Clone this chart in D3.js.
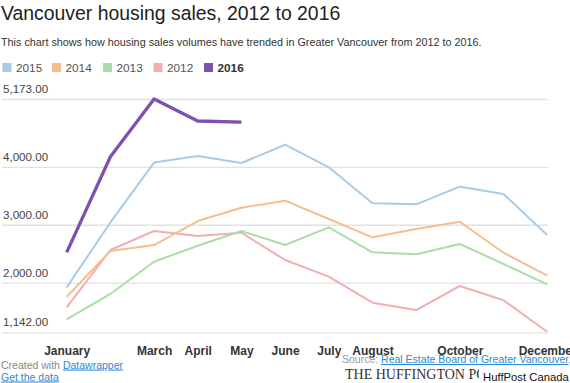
<!DOCTYPE html>
<html><head><meta charset="utf-8">
<script src="https://cdn.jsdelivr.net/npm/d3@7"></script>
<style>
html,body{margin:0;padding:0;background:#fff;overflow:hidden;}
svg{display:block;font-family:"Liberation Sans",Arial,Helvetica,sans-serif;}
</style></head>
<body>
<svg id="c" width="570" height="383"></svg>
<script>
const months = ["January","February","March","April","May","June","July","August","September","October","November","December"];
const shownMonths = ["January","March","April","May","June","July","August","October","December"];
const yTicks = [1142, 2000, 3000, 4000, 5173];
const seriesNames = ["2015","2014","2013","2012","2016"];
const seriesColors = ["#a9cce6","#f5be8f","#aedca8","#f3aeb0","#7e50b0"];
const s2015 = [1919, 3040, 4075, 4188, 4067, 4383, 3993, 3371, 3353, 3658, 3531, 2823];
const s2014 = [1757, 2547, 2650, 3065, 3295, 3416, 3100, 2783, 2927, 3053, 2517, 2120];
const s2013 = [1367, 1804, 2362, 2638, 2892, 2650, 2956, 2524, 2490, 2668, 2322, 1971];
const s2012 = [1574, 2564, 2892, 2806, 2863, 2391, 2103, 1653, 1527, 1942, 1695, 1152];
const s2016 = [2524, 4176, 5173, 4793, 4775];
const seriesValues = [s2015, s2014, s2013, s2012, s2016];

const svg = d3.select("#c");
const x = d3.scalePoint().domain(months).range([66.7, 547.2]);
const y = d3.scaleLinear().domain([1142, 5173]).range([332.3, 99]);

// title, subtitle
svg.append("text").attr("x", 1).attr("y", 20).attr("font-size", 19.4).attr("fill", "#222")
  .text("Vancouver housing sales, 2012 to 2016");
svg.append("text").attr("x", 1).attr("y", 46).attr("font-size", 10.8).attr("fill", "#333")
  .text("This chart shows how housing sales volumes have trended in Greater Vancouver from 2012 to 2016.");

// legend
const legX = [2.5, 52, 103, 153.5, 204];
const leg = svg.append("g");
seriesNames.forEach((n, i) => {
  leg.append("rect").attr("x", legX[i]).attr("y", 63).attr("width", 9).attr("height", 9)
    .attr("fill", seriesColors[i]);
  leg.append("text").attr("x", legX[i] + 13.5).attr("y", 71.5).attr("font-size", 11.8)
    .attr("fill", i === 4 ? "#333" : "#555").attr("font-weight", i === 4 ? "bold" : "normal").text(n);
});

// y grid + labels
const yAxis = d3.axisLeft(y).tickValues(yTicks).tickSize(-546).tickFormat(d3.format(",.2f"));
const gy = svg.append("g").attr("transform", "translate(2,0)").call(yAxis);
gy.select(".domain").remove();
gy.selectAll(".tick line").attr("stroke", "#e2e2e2").attr("stroke-width", 1.3);
gy.selectAll(".tick text").attr("x", 1).attr("dy", -6.5).attr("text-anchor", "start")
  .attr("font-size", 11.6).attr("fill", "#444").attr("font-family", "Liberation Sans,Arial,sans-serif");

// x labels
const xAxis = d3.axisBottom(x).tickValues(shownMonths).tickSize(0);
const gx = svg.append("g").attr("transform", "translate(0,344)").call(xAxis);
gx.select(".domain").remove();
gx.selectAll(".tick text").attr("dy", 0).attr("y", 11).attr("font-size", 12).attr("font-weight", "bold")
  .attr("fill", "#333").attr("font-family", "Liberation Sans,Arial,sans-serif");

// lines
const line = d3.line().x((d, i) => x(months[i])).y(d => y(d));
[3, 2, 1, 0, 4].forEach(i => {
  svg.append("path").datum(seriesValues[i]).attr("d", line).attr("fill", "none")
    .attr("stroke", seriesColors[i]).attr("stroke-width", i === 4 ? 3.3 : 2)
    .attr("stroke-linejoin", "round");
});

// footer
const f1 = svg.append("text").attr("x", 1).attr("y", 368.5).attr("font-size", 10.5);
f1.append("tspan").attr("fill", "#888").text("Created with ");
f1.append("tspan").attr("fill", "#2b8ad6").attr("text-decoration", "underline").text("Datawrapper");
svg.append("text").attr("x", 1).attr("y", 380.5).attr("font-size", 10.5).attr("fill", "#2b8ad6")
  .attr("text-decoration", "underline").text("Get the data");

const f2 = svg.append("text").attr("x", 342).attr("y", 363).attr("font-size", 10.5);
f2.append("tspan").attr("fill", "#999").text("Source: ");
f2.append("tspan").attr("fill", "#2b8ad6").attr("text-decoration", "underline").text("Real Estate Board of Greater Vancouver");
f2.append("tspan").attr("fill", "#999").text(",");

svg.append("text").attr("x", 345).attr("y", 378.5).attr("font-size", 14)
  .attr("font-family", "Liberation Serif,Times New Roman,serif").attr("fill", "#333")
  .text("THE HUFFINGTON POST");
svg.append("rect").attr("x", 479).attr("y", 369).attr("width", 91).attr("height", 14).attr("fill", "#fff");
svg.append("text").attr("x", 483).attr("y", 380.5).attr("font-size", 11.3).attr("fill", "#111")
  .text("HuffPost Canada");
</script>
</body></html>
